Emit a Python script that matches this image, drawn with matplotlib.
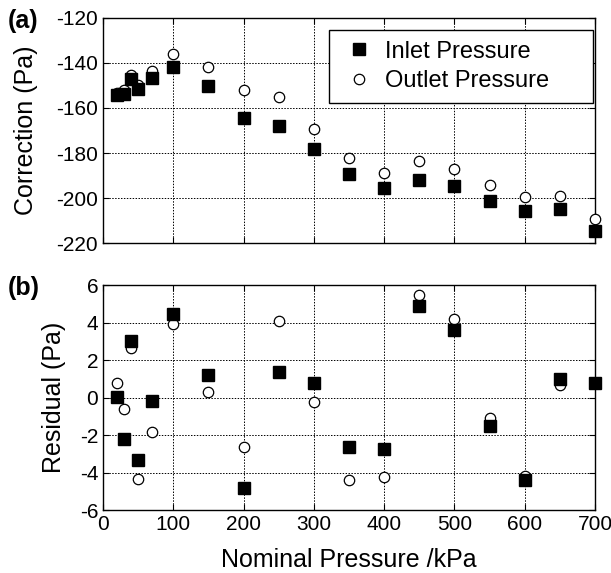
import matplotlib
matplotlib.use("Agg")
import matplotlib.pyplot as plt

plt.rcParams["font.family"] = ["Liberation Sans", "DejaVu Sans"]
plt.rcParams["axes.unicode_minus"] = False

pressure = [20, 30, 40, 50, 70, 100, 150, 200, 250, 300, 350, 400, 450, 500, 550, 600, 650, 700]

inlet_corr = [-154.2, -154.0, -147.0, -151.6, -146.7, -142.0, -150.2, -164.6, -168.0, -178.2,
              -189.5, -195.5, -191.8, -194.7, -201.3, -205.9, -205.0, -214.7]
outlet_corr = [-153.5, -152.0, -145.3, -149.7, -143.5, -135.9, -141.8, -152.0, -155.0, -169.3,
               -182.4, -188.8, -183.6, -187.3, -194.0, -199.5, -199.2, -209.2]

inlet_resid = [0.04, -2.2, 3.03, -3.33, -0.17, 4.44, 1.18, -4.84, 1.38, 0.76,
               -2.62, -2.73, 4.88, 3.58, -1.5, -4.4, 0.97, 0.76]
outlet_resid = [0.76, -0.63, 2.62, -4.33, -1.82, 3.9, 0.29, -2.62, 4.08, -0.22,
                -4.4, -4.22, 5.47, 4.17, -1.11, -4.18, 0.67, 0.76]

fig = plt.figure(figsize=(6.11, 5.73), dpi=100)
ax1 = fig.add_axes([0.1686, 0.5759, 0.8052, 0.3927])
ax2 = fig.add_axes([0.1686, 0.1099, 0.8052, 0.3927])


def style_axes(ax):
    ax.set_xlim(0, 700)
    ax.set_xticks(range(0, 701, 100))
    ax.grid(True, color="black", linestyle=(0, (1.5, 1.5)), linewidth=0.7)
    ax.set_axisbelow(True)
    ax.tick_params(direction="in", top=True, right=True, labelsize=15, length=4)
    for s in ax.spines.values():
        s.set_linewidth(1.0)


# (a) correction
ax1.plot(pressure, outlet_corr, "o", mfc="white", mec="black", mew=0.9, ms=7.5,
         label="Outlet Pressure", zorder=3, clip_on=False)
ax1.plot(pressure, inlet_corr, "s", color="black", ms=8.5, label="Inlet Pressure",
         zorder=4, clip_on=False)
style_axes(ax1)
ax1.set_ylim(-220, -120)
ax1.set_yticks(range(-220, -119, 20))
ax1.tick_params(labelbottom=False)
ax1.set_ylabel("Correction (Pa)", fontsize=18)
ax1.yaxis.set_label_coords(-0.132, 0.5)
handles, labels = ax1.get_legend_handles_labels()
leg = ax1.legend(handles[::-1], labels[::-1], loc="upper left", mode="expand",
                 bbox_to_anchor=(0.459, 0.0, 0.537, 0.9467), borderaxespad=0,
                 fontsize=17, fancybox=False, edgecolor="black", framealpha=1,
                 markerscale=1.0, handletextpad=0.24, borderpad=0.45,
                 labelspacing=0.33, handlelength=1.68)
leg.get_frame().set_linewidth(1.0)
ax1.text(-0.193, 0.985, "(a)", transform=ax1.transAxes, fontsize=18, fontweight="bold",
         ha="left", va="center")

# (b) residual
ax2.plot(pressure, outlet_resid, "o", mfc="white", mec="black", mew=0.9, ms=7.5,
         zorder=3, clip_on=False)
ax2.plot(pressure, inlet_resid, "s", color="black", ms=8.5, zorder=4, clip_on=False)
style_axes(ax2)
ax2.set_ylim(-6, 6)
ax2.set_yticks(range(-6, 7, 2))
ax2.set_ylabel("Residual (Pa)", fontsize=18)
ax2.yaxis.set_label_coords(-0.075, 0.5)
ax2.set_xlabel("Nominal Pressure /kPa", fontsize=18, labelpad=10)
ax2.text(-0.193, 0.985, "(b)", transform=ax2.transAxes, fontsize=18, fontweight="bold",
         ha="left", va="center")

fig.savefig("out.png", dpi=100)
